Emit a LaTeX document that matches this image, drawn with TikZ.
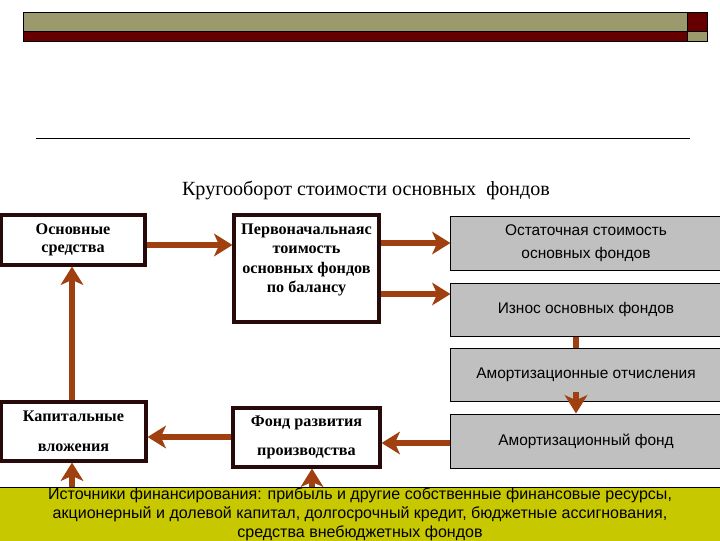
\documentclass[tikz,border=0pt]{standalone}
\usepackage{fontspec}
\setmainfont{Liberation Serif}
\setsansfont{Liberation Sans}
\usetikzlibrary{arrows.meta}

\definecolor{bannerolive}{RGB}{156,154,108}
\definecolor{bannerred}{RGB}{102,0,0}
\definecolor{flowbrown}{RGB}{160,64,16}
\definecolor{boxgray}{RGB}{192,192,192}
\definecolor{srcyellow}{RGB}{200,200,0}
\definecolor{boxedge}{RGB}{40,10,10}

\tikzset{
  whitebox/.style={draw=boxedge,line width=2.2pt,fill=white,inner sep=0pt,align=center,
                   font=\bfseries\fontsize{11.5}{13}\selectfont},
  graybox/.style={draw=black,line width=0.7pt,fill=boxgray,inner sep=0pt,align=center,
                  font=\sffamily\fontsize{11}{16}\selectfont},
  srcbox/.style={draw=black,line width=0.7pt,fill=srcyellow,inner sep=0pt,align=center,
                 font=\sffamily\fontsize{11.4}{13.5}\selectfont},
  flow/.style={draw=flowbrown,line width=4.5pt,-{Stealth[length=13pt,width=16pt,inset=3.5pt]}},
  stem/.style={draw=flowbrown,line width=4.5pt}
}

\begin{document}
\begin{tikzpicture}[x=0.025cm,y=-0.025cm]
  \useasboundingbox (0,0) rectangle (720,540);
  % ── Banner and rule ─────────────────────────────────
  \fill[bannerolive] (23,12) rectangle (687,31);
  \fill[bannerred]   (23,31) rectangle (687,41);
  \fill[bannerred]   (687,12) rectangle (707,31);
  \fill[bannerolive] (687,31) rectangle (707,41);
  \draw[line width=0.7pt] (23,12) rectangle (707,41);
  \draw[line width=0.7pt] (23,31) -- (707,31) (687,12) -- (687,41);
  \draw[line width=0.7pt] (36,138) -- (690,138);
  % ── Title ──────────────────────────────────────────
  \node[font=\fontsize{14.3}{16}\selectfont] (title) at (366,190) {Кругооборот стоимости основных\ \ фондов};
  % ── Boxes ──────────────────────────────────────────
  \node[whitebox,minimum width=3.6cm,minimum height=1.25cm] (osn) at (73,240) {Основные\\средства};
  \node[whitebox,minimum width=3.625cm,minimum height=2.675cm] (perv) at (306.5,268.5) {};
  \node[font=\bfseries\fontsize{11.5}{13.8}\selectfont,align=center] (pervtxt) at (306.5,260)
    {Первоначальнаяс\\тоимость\\основных фондов\\по балансу};
  \node[graybox,minimum width=6.75cm,minimum height=1.35cm] (ost) at (586,243) {Остаточная стоимость\\основных фондов};
  \node[graybox,minimum width=6.75cm,minimum height=1.325cm] (izn) at (586,309.5) {Износ основных фондов};
  \node[graybox,minimum width=6.75cm,minimum height=1.325cm] (amo) at (586,374.5) {Амортизационные отчисления};
  \node[graybox,minimum width=6.75cm,minimum height=1.35cm] (amf) at (586,441) {Амортизационный фонд};
  \node[whitebox,minimum width=3.625cm,minimum height=1.475cm,font=\bfseries\fontsize{11.5}{21}\selectfont]
    (kap) at (73.5,431.5) {Капитальные\\вложения};
  \node[whitebox,minimum width=3.675cm,minimum height=1.475cm,font=\bfseries\fontsize{11.5}{21}\selectfont]
    (fond) at (306.5,437.5) {Фонд развития\\производства};
  \node[srcbox,minimum width=18.25cm,minimum height=1.325cm] (ist) at (360,514.5)
    {Источники финансирования: прибыль и другие собственные финансовые ресурсы,\\
     акционерный и долевой капитал, долгосрочный кредит, бюджетные ассигнования,\\
     средства внебюджетных фондов};
  % ── Arrows ─────────────────────────────────────────
  \draw[flow] (osn.east |- 0,245) -- (perv.west |- 0,245);
  \draw[flow] (perv.east |- ost.west) -- (ost.west);
  \draw[flow] (perv.east |- 0,294) -- (izn.west |- 0,294);
  \draw[stem] (izn.south -| 576,0) -- (amo.north -| 576,0);
  \coordinate (amotip) at (576,392);
  \draw[flow] (amotip) -- (amotip |- amf.north);
  \draw[flow] (amf.west |- 0,443) -- (fond.east |- 0,443);
  \draw[flow] (fond.west |- 0,437) -- (kap.east |- 0,437);
  \draw[flow] (kap.north -| 72,0) -- (osn.south -| 72,0);
  \draw[flow] (ist.north -| 72,0) -- (kap.south -| 72,0);
  \draw[flow] (ist.north -| 312,0) -- (fond.south -| 312,0);
\end{tikzpicture}
\end{document}
